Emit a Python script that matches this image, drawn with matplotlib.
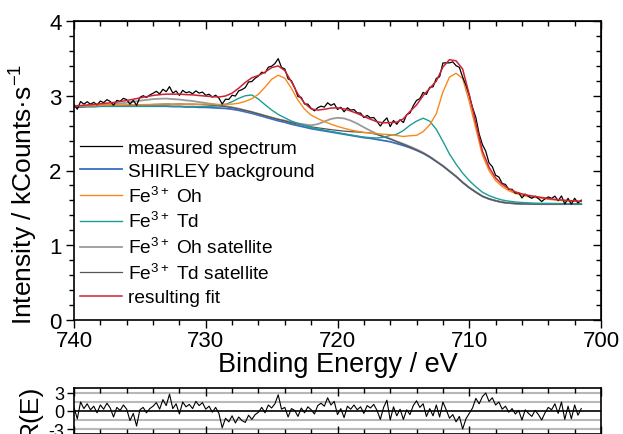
import numpy as np
import matplotlib

matplotlib.use("Agg")

import matplotlib.pyplot as plt
from matplotlib.ticker import MultipleLocator, FixedLocator

plt.rcParams["font.family"] = ["Liberation Sans", "DejaVu Sans"]
plt.rcParams["mathtext.fontset"] = "custom"
plt.rcParams["mathtext.rm"] = "Liberation Sans"
plt.rcParams["mathtext.it"] = "Liberation Sans:italic"
plt.rcParams["mathtext.bf"] = "Liberation Sans:bold"
plt.rcParams["mathtext.default"] = "regular"

# binding energy grid of the fit curves (eV), 740 -> 701.5 in 0.5 eV steps
energy = np.arange(740.0, 701.4, -0.5)

# Shirley background (kCounts/s)
shirley = [
    2.850, 2.850, 2.855, 2.855, 2.860, 2.860, 2.860, 2.860, 2.860, 2.860,
    2.860, 2.860, 2.860, 2.860, 2.860, 2.855, 2.855, 2.850, 2.850, 2.845,
    2.845, 2.840, 2.835, 2.830, 2.820, 2.805, 2.785, 2.765, 2.740, 2.715,
    2.690, 2.665, 2.645, 2.620, 2.600, 2.580, 2.560, 2.545, 2.530, 2.515,
    2.500, 2.485, 2.470, 2.455, 2.440, 2.430, 2.415, 2.400, 2.385, 2.360,
    2.335, 2.305, 2.270, 2.230, 2.180, 2.120, 2.060, 1.990, 1.920, 1.840,
    1.770, 1.710, 1.655, 1.620, 1.595, 1.575, 1.565, 1.558, 1.554, 1.552,
    1.550, 1.550, 1.550, 1.550, 1.550, 1.550, 1.550, 1.550,
]

# fitted components, height above the background
fe_oh = [
    0.010, 0.010, 0.010, 0.012, 0.013, 0.014, 0.015, 0.016, 0.018, 0.019,
    0.020, 0.022, 0.024, 0.026, 0.028, 0.030, 0.032, 0.034, 0.036, 0.040,
    0.044, 0.048, 0.048, 0.056, 0.068, 0.095, 0.140, 0.195, 0.280, 0.400,
    0.530, 0.610, 0.590, 0.480, 0.340, 0.240, 0.180, 0.150, 0.125, 0.105,
    0.090, 0.080, 0.072, 0.070, 0.070, 0.072, 0.076, 0.085, 0.095, 0.108,
    0.120, 0.160, 0.200, 0.290, 0.430, 0.640, 0.990, 1.260, 1.380, 1.390,
    1.150, 0.850, 0.550, 0.380, 0.270, 0.210, 0.165, 0.135, 0.115, 0.100,
    0.090, 0.078, 0.065, 0.055, 0.048, 0.042, 0.037, 0.033,
]
fe_td = [
    0.000, 0.000, 0.000, 0.000, 0.000, 0.000, 0.000, 0.000, 0.000, 0.000,
    0.001, 0.001, 0.002, 0.002, 0.003, 0.004, 0.005, 0.006, 0.008, 0.010,
    0.013, 0.020, 0.032, 0.055, 0.100, 0.160, 0.215, 0.245, 0.215, 0.165,
    0.120, 0.085, 0.060, 0.042, 0.030, 0.022, 0.016, 0.012, 0.010, 0.008,
    0.007, 0.006, 0.006, 0.006, 0.007, 0.010, 0.020, 0.045, 0.085, 0.125,
    0.200, 0.300, 0.390, 0.470, 0.480, 0.430, 0.330, 0.230, 0.165, 0.125,
    0.095, 0.072, 0.055, 0.044, 0.036, 0.030, 0.025, 0.021, 0.018, 0.015,
    0.013, 0.011, 0.010, 0.009, 0.008, 0.007, 0.006, 0.006,
]
fe_oh_sat = [
    0.005, 0.007, 0.009, 0.012, 0.015, 0.020, 0.027, 0.036, 0.047, 0.060,
    0.073, 0.085, 0.095, 0.100, 0.102, 0.100, 0.095, 0.088, 0.080, 0.070,
    0.058, 0.048, 0.040, 0.032, 0.026, 0.022, 0.020, 0.019, 0.019, 0.019,
    0.020, 0.021, 0.023, 0.026, 0.030, 0.036, 0.045, 0.075, 0.125, 0.175,
    0.205, 0.212, 0.198, 0.172, 0.138, 0.102, 0.075, 0.055, 0.040, 0.030,
    0.022, 0.016, 0.012, 0.009, 0.007, 0.005, 0.004, 0.003, 0.002, 0.002,
    0.001, 0.001, 0.000, 0.000, 0.000, 0.000, 0.000, 0.000, 0.000, 0.000,
    0.000, 0.000, 0.000, 0.000, 0.000, 0.000, 0.000, 0.000,
]
fe_td_sat = [
    0.000, 0.002, 0.003, 0.004, 0.005, 0.007, 0.008, 0.010, 0.012, 0.014,
    0.017, 0.020, 0.023, 0.026, 0.029, 0.032, 0.035, 0.037, 0.038, 0.038,
    0.035, 0.032, 0.028, 0.024, 0.021, 0.019, 0.018, 0.017, 0.017, 0.017,
    0.017, 0.018, 0.019, 0.020, 0.021, 0.022, 0.024, 0.026, 0.029, 0.032,
    0.036, 0.042, 0.050, 0.060, 0.068, 0.072, 0.066, 0.052, 0.036, 0.024,
    0.015, 0.009, 0.005, 0.003, 0.002, 0.001, 0.000, 0.000, 0.000, 0.000,
    0.000, 0.000, 0.000, 0.000, 0.000, 0.000, 0.000, 0.000, 0.000, 0.000,
    0.000, 0.000, 0.000, 0.000, 0.000, 0.000, 0.000, 0.000,
]

# measured points, 740 -> 701.5 in 0.25 eV steps, and normalised residual R(E)
energy_meas = np.arange(740.0, 701.4, -0.25)
residual = [
    0.6, -1.3, 1.5, 0.4, 1.2, 0.2, 0.8, -0.3, 1.0, 0.3, 1.3, 0.5,
    -1.0, 0.6, 0.1, 1.0, 0.3, -1.6, -0.4, -2.5, 0.2, 0.6, -0.3, 0.4,
    0.8, 1.4, 0.3, 1.9, 0.9, 2.8, 0.4, 1.2, -0.5, 1.5, 0.7, 1.1,
    0.4, 1.6, 0.9, 1.4, 0.3, 0.8, -0.2, 0.6, -0.4, -2.8, -1.2, -1.8,
    -0.8, -2.0, -1.0, -1.6, -1.9, -0.7, -1.4, -0.6, -0.2, 0.6, -0.3, 1.0,
    0.5, 1.2, 2.7, 0.3, 0.6, -1.0, 0.4, 0.1, -0.9, 0.5, -0.3, 0.7,
    0.2, -0.5, 0.9, 1.3, 0.8, 2.2, 1.0, 1.6, -0.6, 0.4, -1.1, 0.8,
    0.3, 1.0, 0.2, 0.7, -0.4, 0.9, 0.5, 1.1, 0.1, -1.4, 0.6, 1.8,
    -1.5, 0.7, -0.8, 0.3, -1.4, 0.2, -0.6, 0.9, 1.7, 0.6, 1.2, -0.9,
    0.4, -0.8, 1.0, -1.0, 1.5, 0.2, -1.2, -0.6, -1.8, -0.9, -3.0, -1.3,
    -0.4, 0.5, 2.1, 1.2, 2.4, 3.0, 1.6, 2.2, 1.0, 1.5, 0.3, 0.8,
    -0.2, 0.4, -0.5, 0.1, -1.5, 0.2, -0.4, -0.9, 0.1, -0.6, -1.5, -0.3,
    0.6, 0.2, 1.2, -0.4, 1.5, -1.4, 0.8, -1.3, 1.0, -0.7, 0.4,
]
noise_sigma = 0.036  # kCounts/s per unit of R(E)

labels = [
    "measured spectrum",
    "SHIRLEY background",
    "Fe$^{3+}$ Oh",
    "Fe$^{3+}$ Td",
    "Fe$^{3+}$ Oh satellite",
    "Fe$^{3+}$ Td satellite",
    "resulting fit",
]
colors = ["black", "#3a6dc6", "#f8891c", "#1e9c98", "#9a9a9a", "#555555", "#cc2235"]

bg = np.array(shirley)
comps = [np.array(c) for c in (fe_oh, fe_td, fe_oh_sat, fe_td_sat)]
fit = bg + sum(comps)
fit_at_meas = np.interp(energy_meas[::-1], energy[::-1], fit[::-1])[::-1]
measured = fit_at_meas + noise_sigma * np.array(residual)

fig = plt.figure(figsize=(6.23, 4.35), dpi=100)
ax = fig.add_axes([74 / 623, 1 - 321 / 435, 527 / 623, 299 / 435])
axr = fig.add_axes([74 / 623, 0.0, 527 / 623, 46 / 435])

h_bg, = ax.plot(energy, bg, color=colors[1], lw=1.3)
h_ohs, = ax.plot(energy, bg + comps[2], color=colors[4], lw=1.3)
h_tds, = ax.plot(energy, bg + comps[3], color=colors[5], lw=0.9)
h_td, = ax.plot(energy, bg + comps[1], color=colors[3], lw=1.0)
h_oh, = ax.plot(energy, bg + comps[0], color=colors[2], lw=1.0)
h_meas, = ax.plot(energy_meas, measured, color=colors[0], lw=0.9)
h_fit, = ax.plot(energy, fit, color=colors[6], lw=1.1)

ax.set_xlim(740, 700)
ax.set_ylim(0, 4)
ax.xaxis.set_major_locator(MultipleLocator(10))
ax.xaxis.set_minor_locator(MultipleLocator(2))
ax.yaxis.set_major_locator(MultipleLocator(1))
ax.yaxis.set_minor_locator(MultipleLocator(0.2))
ax.tick_params(which="both", direction="out", top=False, right=False,
               labelsize=16, width=1.0)
ax.tick_params(which="major", length=6)
ax.tick_params(which="minor", length=3.5)
ax.tick_params(axis="x", pad=1.5)
ax.tick_params(axis="y", pad=3)
for s in ax.spines.values():
    s.set_linewidth(1.2)

# mirrored ticks pointing inward on top and right
top = ax.secondary_xaxis("top")
top.xaxis.set_major_locator(MultipleLocator(10))
top.xaxis.set_minor_locator(MultipleLocator(2))
top.tick_params(which="both", direction="in", labeltop=False, width=1.0)
top.tick_params(which="major", length=6)
top.tick_params(which="minor", length=3.5)
right = ax.secondary_yaxis("right")
right.yaxis.set_major_locator(MultipleLocator(1))
right.yaxis.set_minor_locator(MultipleLocator(0.2))
right.tick_params(which="both", direction="in", labelright=False, width=1.0)
right.tick_params(which="major", length=6)
right.tick_params(which="minor", length=3.5)

ax.set_xlabel("Binding Energy / eV", fontsize=19.5)
ax.xaxis.set_label_coords(0.5, -0.105)
ax.set_ylabel("Intensity / kCounts\u00b7s$^{-1}$", fontsize=19)
ax.yaxis.set_label_coords(-0.064, 0.425)

handles = [h_meas, h_bg, h_oh, h_td, h_ohs, h_tds, h_fit]
ax.legend(handles, labels, loc="upper left", bbox_to_anchor=(0.0114, 0.605),
          frameon=False, fontsize=13.8, handlelength=2.2, handletextpad=0.3,
          labelspacing=0.3, borderpad=0, borderaxespad=0)

# residual panel
for lvl in (3, 1.5, -1.5, -3):
    axr.axhline(lvl, color="#b8b8b8", lw=1.5, zorder=1)
axr.axhline(0, color="black", lw=1.2, zorder=2)
axr.plot(energy_meas, residual, color="black", lw=0.8, zorder=3)
axr.set_xlim(740, 700)
axr.set_ylim(-3.83, 3.83)
axr.xaxis.set_major_locator(MultipleLocator(10))
axr.xaxis.set_minor_locator(MultipleLocator(2))
axr.yaxis.set_major_locator(FixedLocator([3, 0, -3]))
axr.tick_params(axis="x", which="both", direction="in", top=True,
                bottom=True, labelbottom=False, width=1.0)
axr.tick_params(axis="x", which="major", length=6)
axr.tick_params(axis="x", which="minor", length=3.5)
axr.tick_params(axis="y", direction="out", length=5, width=1.0,
                labelsize=13, pad=2)
axr.set_yticklabels(["3", "0", "-3"])
for s in axr.spines.values():
    s.set_linewidth(1.2)
axr.set_ylabel("R(E)", fontsize=19)
axr.yaxis.set_label_coords(-0.061, 0.5)

fig.savefig("out.png", dpi=100)
